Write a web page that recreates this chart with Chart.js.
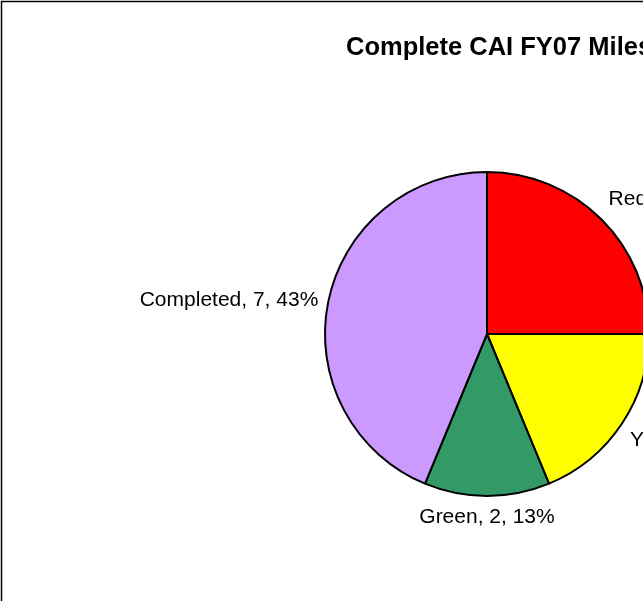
<!DOCTYPE html>
<html>
<head>
<meta charset="utf-8">
<script src="https://cdn.jsdelivr.net/npm/chart.js@4"></script>
<style>
  html, body { margin: 0; padding: 0; background: #fff; overflow: hidden; }
  #wrap { position: absolute; left: 0; top: 0; width: 1052px; height: 700px; }
</style>
</head>
<body>
<div id="wrap"><canvas id="pie-chart" width="1052" height="700"></canvas></div>
<script>
// chart data
const chartTitle = "Complete CAI FY07 Milestones";
const categories = ["Red", "Yellow", "Green", "Completed"];
const counts = [4, 3, 2, 7];
const percents = [25, 19, 13, 43];
const sliceColors = ["#FF0000", "#FFFF00", "#339966", "#CC99FF"];

const fontFamily = "'Liberation Sans', Arial, sans-serif";

// white page, thin frame and the title (title is not centred on the pie in the original)
const framePlugin = {
  id: "frame",
  beforeDraw(chart) {
    const ctx = chart.ctx;
    ctx.save();
    ctx.fillStyle = "#fff";
    ctx.fillRect(0, 0, chart.width, chart.height);
    ctx.strokeStyle = "#000";
    ctx.lineWidth = 1.5;
    ctx.strokeRect(1.5, 1.5, chart.width - 3, chart.height - 3);
    ctx.fillStyle = "#000";
    ctx.font = "bold 25.5px " + fontFamily;
    ctx.textAlign = "left";
    ctx.textBaseline = "alphabetic";
    ctx.fillText(chartTitle, 346, 55);
    ctx.restore();
  }
};

// Excel style "Name, value, pct%" labels just outside each slice
const sliceLabels = {
  id: "sliceLabels",
  afterDatasetsDraw(chart) {
    const ctx = chart.ctx;
    const arcs = chart.getDatasetMeta(0).data;
    ctx.save();
    ctx.font = "21px " + fontFamily;
    ctx.fillStyle = "#000";
    ctx.textBaseline = "middle";
    arcs.forEach((arc, i) => {
      const mid = (arc.startAngle + arc.endAngle) / 2;
      const dx = Math.cos(mid);
      const dy = Math.sin(mid);
      const r = arc.outerRadius + 10;
      const x = arc.x + dx * r;
      let y = arc.y + dy * r;
      if (dy < -0.3) y -= 13;
      if (dy > 0.3) y += 11;
      ctx.textAlign = dx > 0.15 ? "left" : (dx < -0.15 ? "right" : "center");
      ctx.fillText(categories[i] + ", " + counts[i] + ", " + percents[i] + "%", x, y);
    });
    ctx.restore();
  }
};

const ctx = document.getElementById("pie-chart").getContext("2d");
new Chart(ctx, {
  type: "pie",
  data: {
    labels: categories,
    datasets: [{
      data: counts,
      backgroundColor: sliceColors,
      borderColor: "#000",
      borderWidth: 2,
      radius: 162
    }]
  },
  options: {
    responsive: false,
    animation: false,
    layout: { padding: { left: 0, right: 78, top: 68, bottom: 100 } },
    plugins: {
      legend: { display: false },
      tooltip: { enabled: false },
      title: { display: false }
    }
  },
  plugins: [framePlugin, sliceLabels]
});
</script>
</body>
</html>
